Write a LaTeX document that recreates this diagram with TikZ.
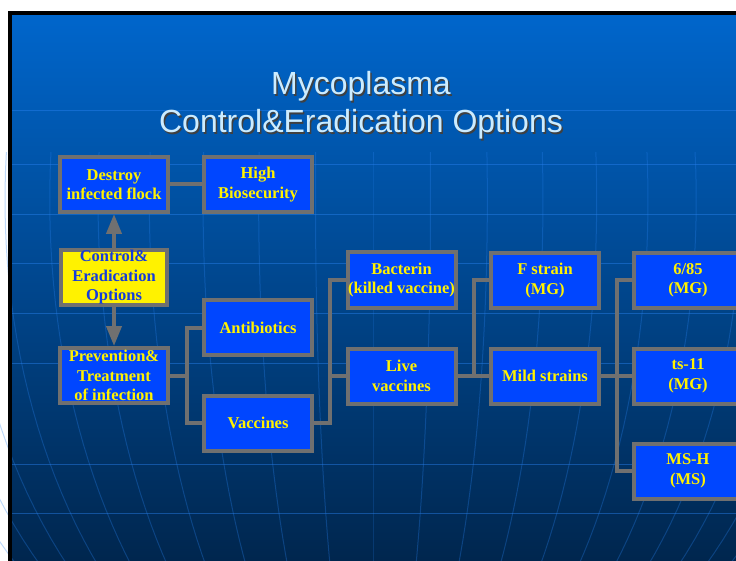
\documentclass[tikz,border=0pt]{standalone}
\usepackage{fontspec}
\setmainfont{Liberation Serif}
\newfontfamily\titlefont{Liberation Sans}
\usetikzlibrary{arrows.meta}

\definecolor{slidetop}{RGB}{0,102,204}
\definecolor{slidebottom}{RGB}{0,38,78}
\definecolor{gridblue}{RGB}{40,130,240}
\definecolor{boxblue}{RGB}{0,70,255}
\definecolor{boxgray}{RGB}{112,112,112}
\definecolor{titleblue}{RGB}{204,236,255}
\definecolor{ctrlblue}{RGB}{20,60,220}

\begin{document}
\begin{tikzpicture}[x=1pt, y=-1pt,
	box/.style={draw=boxgray, line width=4pt, fill=boxblue, minimum width=108pt, minimum height=55pt, inner sep=0pt, align=center, text=yellow, font=\bfseries\fontsize{16.5}{19.5}\selectfont},
	link/.style={draw=boxgray, line width=4pt},
	gridline/.style={gridblue, line width=1pt}]
	\useasboundingbox (0, 0) rectangle (736, 561);
	\clip (0, 0) rectangle (736, 561);
	\fill[white] (0, 0) rectangle (736, 561);
	\shade[top color=slidetop, bottom color=slidebottom] (10, 13) rectangle (736, 561);
	\foreach \y in {111, 165, 215, 264, 313, 363, 464, 513}
		\draw[gridline, opacity=0.45] (12, \y) -- (736, \y);
	\foreach \k in {-15, ..., 15}
		\draw[gridline, opacity=0.3] plot[domain=-5:42, samples=25, variable=\t] ({373 + 550*cos(\t)*sin(6*\k)}, {200 + 550*sin(\t)});
	\draw[black, line width=4pt] (10, 561) -- (10, 13) -- (736, 13);

	\node[text=black!75, align=center, inner sep=0pt, font=\titlefont\fontsize{32}{38}\selectfont] (titleshadow) at (362.5, 107) {Mycoplasma\\Control\&Eradication Options};
	\node[text=titleblue, align=center, inner sep=0pt, font=\titlefont\fontsize{32}{38}\selectfont] (title) at (361, 105.5) {Mycoplasma\\Control\&Eradication Options};

	\coordinate (F1) at (187, 375.5);
	\coordinate (F2) at (330, 376);
	\coordinate (F3) at (474, 376);
	\coordinate (F4) at (617, 376);

	\node[box] (destroy) at (114, 184.5) {Destroy\\infected flock};
	\node[box] (high) at (258, 184.5) {High\\Biosecurity};
	\node[box, fill=yellow, text=ctrlblue, minimum width=106pt] (ctrl) at (114, 277.5) {Control\&\\Eradication\\Options};
	\node[box] (prev) at (114, 375.5) {Prevention\&\\Treatment\\of infection};
	\node[box] (anti) at (258, 327.5) {Antibiotics};
	\node[box] (vacc) at (258, 423) {Vaccines};
	\node[box] (bact) at (401.5, 280) {Bacterin\\(killed vaccine)};
	\node[box] (live) at (401.5, 376) {Live\\vaccines};
	\node[box] (fstrain) at (545, 280.5) {F strain\\(MG)};
	\node[box] (mild) at (545, 376) {Mild strains};
	\node[box] (s685) at (688, 280.5) {6/85\\(MG)};
	\node[box] (ts11) at (688, 376) {ts-11\\(MG)};
	\node[box] (msh) at (688, 471) {MS-H\\(MS)};

	\draw[link] (destroy) -- (high);
	\draw[link, -{Triangle[length=20pt, width=15pt]}] (ctrl) -- (destroy);
	\draw[link, -{Triangle[length=20pt, width=15pt]}] (ctrl) -- (prev);
	\draw[link] (prev.east) -- (F1);
	\draw[link] (anti.west) -| (F1);
	\draw[link] (vacc.west) -| (F1);
	\draw[link] (vacc.east) -| (F2);
	\draw[link] (bact.west) -| (F2);
	\draw[link] (live.west) -- (F2);
	\draw[link] (live.east) -- (F3) -- (mild.west);
	\draw[link] (fstrain.west) -| (F3);
	\draw[link] (mild.east) -- (F4) -- (ts11.west);
	\draw[link] (s685.west) -| (F4);
	\draw[link] (msh.west) -| (F4);
\end{tikzpicture}
\end{document}
